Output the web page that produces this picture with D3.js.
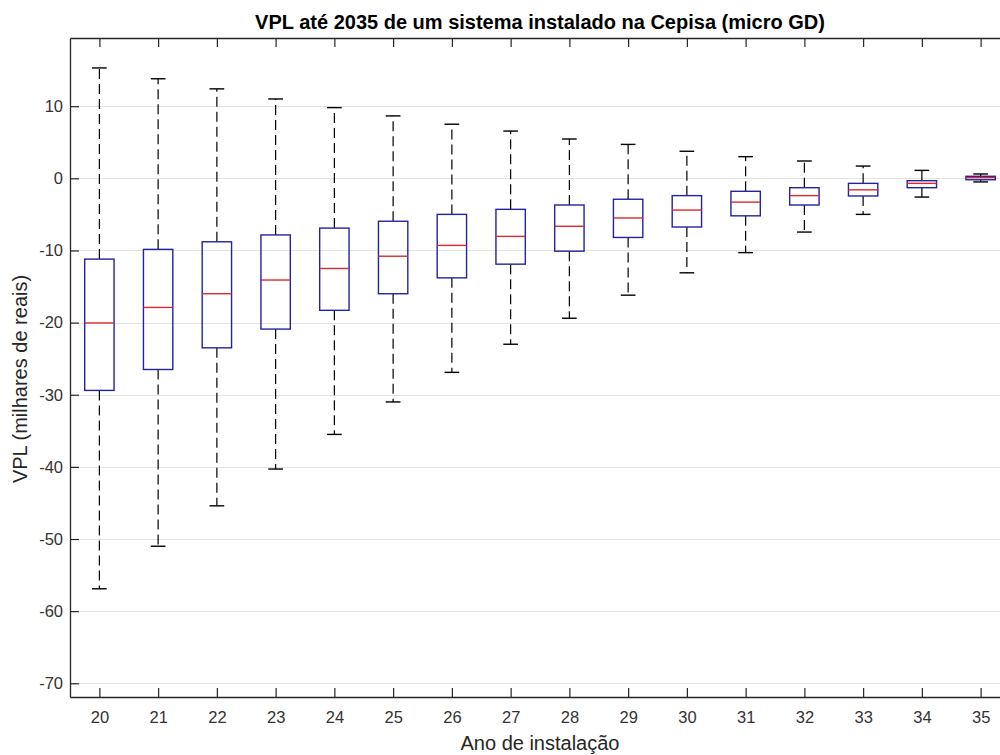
<!DOCTYPE html>
<html>
<head>
<meta charset="utf-8">
<script src="https://cdn.jsdelivr.net/npm/d3@7"></script>
<style>
  html, body { margin: 0; padding: 0; background: #fff; }
  svg { display: block; font-family: "Liberation Sans", Arial, sans-serif; }
</style>
</head>
<body>
<div id="chart"></div>
<script>
// values (milhares de reais)
var years = ['20', '21', '22', '23', '24', '25', '26', '27', '28', '29', '30', '31', '32', '33', '34', '35'];
var whiskHi = [15.3, 13.8, 12.4, 11.0, 9.8, 8.65, 7.5, 6.55, 5.45, 4.7, 3.75, 3.0, 2.4, 1.7, 1.1, 0.6];
var q3 = [-11.2, -9.85, -8.8, -7.85, -6.9, -5.95, -5.0, -4.3, -3.7, -2.9, -2.4, -1.8, -1.3, -0.7, -0.33, 0.28];
var medians = [-20.05, -17.9, -16.0, -14.1, -12.5, -10.8, -9.3, -8.05, -6.65, -5.5, -4.4, -3.3, -2.4, -1.6, -0.7, 0.1];
var q1 = [-29.4, -26.5, -23.5, -20.9, -18.3, -16.0, -13.8, -11.9, -10.1, -8.2, -6.75, -5.2, -3.7, -2.45, -1.3, -0.2];
var whiskLo = [-56.9, -51.0, -45.4, -40.3, -35.5, -31.0, -26.9, -23.0, -19.4, -16.2, -13.1, -10.3, -7.45, -5.0, -2.6, -0.5];
var yTicks = [-70, -60, -50, -40, -30, -20, -10, 0, 10];

var width = 1000, height = 755;
var plot = {left: 70, right: 1010, top: 38, bottom: 697};
var axisColor = '#262626';

var svg = d3.select('#chart')
    .append('svg')
    .attr('width', width)
    .attr('height', height);

var x = d3.scalePoint()
    .domain(years)
    .range([plot.left, plot.right])
    .padding(0.5);

var y = d3.scaleLinear()
    .domain([-71.9, 19.45])
    .range([plot.bottom, plot.top]);

var step = x.step();
var boxW = step * 0.5;
var capW = step * 0.25;

// grid
svg.append('g')
    .selectAll('line')
    .data(yTicks)
    .enter()
    .append('line')
    .attr('x1', plot.left)
    .attr('x2', plot.right)
    .attr('y1', d => Math.round(y(d)) + 0.5)
    .attr('y2', d => Math.round(y(d)) + 0.5)
    .attr('stroke', '#e3e3e3')
    .attr('stroke-width', 1);

var boxes = years.map((yr, i) => ({
    year: yr, lo: whiskLo[i], q1: q1[i], med: medians[i], q3: q3[i], hi: whiskHi[i]
}));

var g = svg.append('g')
    .selectAll('g')
    .data(boxes)
    .enter()
    .append('g')
    .attr('transform', d => 'translate(' + x(d.year) + ',0)');

// whiskers (dashed)
g.append('line')
    .attr('y1', d => y(d.q3)).attr('y2', d => y(d.hi))
    .attr('stroke', '#000').attr('stroke-dasharray', '10,5').attr('stroke-width', 1.2);
g.append('line')
    .attr('y1', d => y(d.q1)).attr('y2', d => y(d.lo))
    .attr('stroke', '#000').attr('stroke-dasharray', '10,5').attr('stroke-width', 1.2);

// caps
g.append('line')
    .attr('x1', -capW / 2).attr('x2', capW / 2)
    .attr('y1', d => y(d.hi)).attr('y2', d => y(d.hi))
    .attr('stroke', '#000').attr('stroke-width', 1.4);
g.append('line')
    .attr('x1', -capW / 2).attr('x2', capW / 2)
    .attr('y1', d => y(d.lo)).attr('y2', d => y(d.lo))
    .attr('stroke', '#000').attr('stroke-width', 1.4);

// box
g.append('rect')
    .attr('x', -boxW / 2)
    .attr('width', boxW)
    .attr('y', d => y(d.q3))
    .attr('height', d => y(d.q1) - y(d.q3))
    .attr('fill', 'none')
    .attr('stroke', '#23239e')
    .attr('stroke-width', 1.4);

// median
g.append('line')
    .attr('x1', -boxW / 2).attr('x2', boxW / 2)
    .attr('y1', d => y(d.med)).attr('y2', d => y(d.med))
    .attr('stroke', '#dc2a2a').attr('stroke-width', 1.4);

// axes (plain hyphen for negatives, like the original)
var xAxisBottom = d3.axisBottom(x).tickSizeInner(-9).tickSizeOuter(0).tickPadding(14);
var xAxisTop = d3.axisTop(x).tickSizeInner(-9).tickSizeOuter(0).tickFormat('');
var yAxis = d3.axisLeft(y).tickValues(yTicks).tickFormat(d => String(d))
    .tickSizeInner(-9).tickSizeOuter(0).tickPadding(7);

function styleAxis(sel) {
    sel.select('.domain').attr('stroke', axisColor).attr('stroke-width', 1.3);
    sel.selectAll('.tick line').attr('stroke', axisColor).attr('stroke-width', 1.2);
    sel.selectAll('.tick text')
        .attr('fill', '#333')
        .style('font-size', '16.5px')
        .style('font-family', '"Liberation Sans", Arial, sans-serif');
}

svg.append('g')
    .attr('transform', 'translate(0,' + plot.bottom + ')')
    .call(xAxisBottom)
    .call(styleAxis);

svg.append('g')
    .attr('transform', 'translate(0,' + plot.top + ')')
    .call(xAxisTop)
    .call(styleAxis);

svg.append('g')
    .attr('transform', 'translate(' + plot.left + ',0)')
    .call(yAxis)
    .call(styleAxis);

// labels
svg.append('text')
    .attr('x', (plot.left + plot.right) / 2)
    .attr('y', 29)
    .attr('text-anchor', 'middle')
    .attr('fill', '#000')
    .style('font-size', '20px')
    .style('font-weight', 'bold')
    .text('VPL até 2035 de um sistema instalado na Cepisa (micro GD)');

svg.append('text')
    .attr('x', (plot.left + plot.right) / 2)
    .attr('y', 750)
    .attr('text-anchor', 'middle')
    .attr('fill', axisColor)
    .style('font-size', '20px')
    .text('Ano de instalação');

svg.append('text')
    .attr('transform', 'translate(27,379) rotate(-90)')
    .attr('text-anchor', 'middle')
    .attr('fill', axisColor)
    .style('font-size', '20px')
    .text('VPL (milhares de reais)');
</script>
</body>
</html>
